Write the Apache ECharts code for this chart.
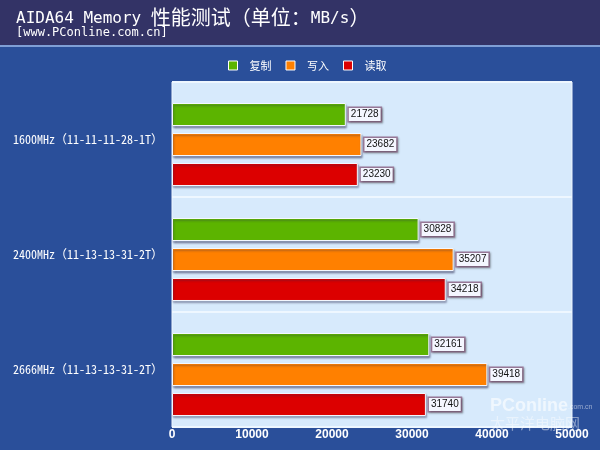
<!DOCTYPE html>
<html><head><meta charset="utf-8">
<script src="https://cdn.jsdelivr.net/npm/echarts@6/dist/echarts.min.js"></script>
<style>html,body{margin:0;padding:0;background:#2a4f9a}#c{width:600px;height:450px}</style>
</head><body><div id="c"></div>
<script>
const categories = ['1600MHz（11-11-11-28-1T）', '2400MHz（11-13-13-31-2T）', '2666MHz（11-13-13-31-2T）'];
const seriesNames = ['复制', '写入', '读取'];
const copyVals = [21728, 30828, 32161];
const writeVals = [23682, 35207, 39418];
const readVals = [23230, 34218, 31740];
const xTicks = [0, 10000, 20000, 30000, 40000, 50000];
const colors = ['#5cb400', '#ff8000', '#dc0000'];

const chart = echarts.init(document.getElementById('c'));
const mono = '"DejaVu Sans Mono", "Noto Sans CJK SC", monospace';
const monoCJK = '"Noto Sans Mono CJK SC", "DejaVu Sans Mono", "Noto Sans CJK SC", monospace';
const dataSets = [copyVals, writeVals, readVals];
const gridLR = {left: 172, right: 28};
chart.setOption({
  animation: false,
  backgroundColor: '#2a4f9a',
  graphic: [
    {type: 'rect', shape: {x: 0, y: 0, width: 600, height: 45}, style: {fill: '#333366'}, z: -1},
    {type: 'rect', shape: {x: 0, y: 45, width: 600, height: 2}, style: {fill: '#7f9fd6'}, z: -1},
    {type: 'text', left: 16, top: 7, style: {
      text: '{a|AIDA64 Memory }{c|性能测试（单位：}{a|MB/s}{c|）}',
      rich: {
        a: {fill: '#fff', fontFamily: '"DejaVu Sans Mono"', fontSize: 16, verticalAlign: 'bottom'},
        c: {fill: '#fff', fontFamily: '"Noto Sans CJK SC"', fontSize: 20, verticalAlign: 'bottom'}
      }}},
    {type: 'text', left: 16, top: 27, style: {text: '[www.PConline.com.cn]', fill: '#ffffff', font: '12px ' + mono}},
    {type: 'text', left: 490, top: 397, z: 100, style: {text: 'PConline', fill: 'rgba(255,255,255,0.6)', font: 'bold 18px Arial'}},
    {type: 'text', left: 568, top: 404, z: 100, style: {text: '.com.cn', fill: 'rgba(255,255,255,0.5)', font: '7px Arial'}},
    {type: 'text', left: 490, top: 416, z: 100, style: {text: '太平洋电脑网', fill: 'rgba(255,255,255,0.45)', font: '15px "Noto Sans CJK SC"'}}
  ],
  legend: {
    top: 60, left: 228, padding: 0, itemWidth: 9, itemHeight: 9, itemGap: 14,
    icon: 'rect',
    textStyle: {color: '#fff', fontSize: 11, fontFamily: '"Noto Sans CJK SC"', padding: [0, 0, 0, 7]},
    itemStyle: {borderColor: '#ffffff', borderWidth: 1}
  },
  grid: [
    Object.assign({top: 82, bottom: 23, show: true, backgroundColor: '#d7eafc', borderColor: '#eef6ff', borderWidth: 1, outerBoundsMode: 'none'}, gridLR),
    Object.assign({top: 87, bottom: 18, outerBoundsMode: 'none'}, gridLR)
  ],
  xAxis: [
    {
      gridIndex: 0, type: 'value', min: 0, max: 50000, interval: 10000,
      axisLine: {show: false}, axisTick: {show: false}, splitLine: {show: false},
      axisLabel: {color: '#fff', fontSize: 12, fontWeight: 'bold', fontFamily: 'Arial', margin: 2,
        customValues: xTicks, formatter: v => String(v)}
    },
    {
      gridIndex: 1, type: 'value', min: 0, max: 50000, interval: 10000, show: false
    }
  ],
  yAxis: [
    {
      gridIndex: 0, type: 'category', data: categories, inverse: true,
      axisLine: {show: false}, axisTick: {show: false},
      splitLine: {show: true, lineStyle: {color: '#eef7ff', width: 2}},
      axisLabel: {color: '#fff', fontSize: 12, fontFamily: monoCJK, margin: 9}
    },
    {
      gridIndex: 1, type: 'category', data: categories, inverse: true, show: false
    }
  ],
  series: seriesNames.map((n, i) => ({
    name: n, type: 'bar', data: dataSets[i], xAxisIndex: 1, yAxisIndex: 1,
    barWidth: 23, barGap: '30.4%',
    itemStyle: {color: colors[i], borderColor: '#f4f8ff', borderWidth: 1,
      shadowColor: 'rgba(40,40,80,0.45)', shadowBlur: 2, shadowOffsetX: 1, shadowOffsetY: 2},
    label: {show: true, position: 'right', distance: 3, color: '#111', fontSize: 10, fontFamily: 'Arial',
      backgroundColor: '#f4f6ff', borderColor: '#9a7a9a', borderWidth: 1.5, padding: [2, 2, 1, 2],
      shadowColor: 'rgba(0,0,0,0.3)', shadowBlur: 2, shadowOffsetX: 1, shadowOffsetY: 1}
  }))
});
</script></body></html>
